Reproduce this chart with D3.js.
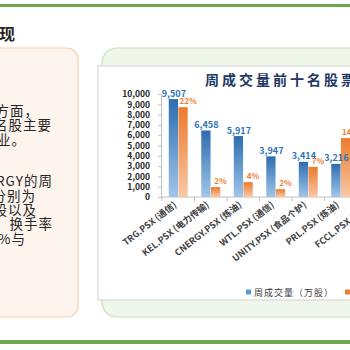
<!DOCTYPE html>
<html>
<head>
<meta charset="utf-8">
<script src="https://cdn.jsdelivr.net/npm/d3@7/dist/d3.min.js"></script>
<style>
  body { margin: 0; background: #ffffff; }
  text { font-family: "Noto Sans CJK SC", "Noto Sans", sans-serif; }
</style>
</head>
<body>
<div id="chart"></div>
<script>
// chart data
var categories = ["TRG.PSX (通信)", "KEL.PSX (电力传输)", "CNERGY.PSX (炼油)", "WTL.PSX (通信)",
                  "UNITY.PSX (食品个护)", "PRL.PSX (炼油)", "FCCL.PSX (水泥)"];
var volumes = [9507, 6458, 5917, 3947, 3414, 3216, null];      // 万股
var turnover = [0.218, 0.024, 0.036, 0.019, 0.073, 0.143, null]; // 换手率
var yTicks = [0, 1000, 2000, 3000, 4000, 5000, 6000, 7000, 8000, 9000, 10000];
var seriesNames = ["周成交量（万股）", "周换手率"];
var chartTitle = "周成交量前十名股票";
var pageTitle = "市场表现";
var noteLines = ["从行业方面，", "前十名股主要", "集中在炼油行业。", "TRG与CNERGY的周",
                 "成交量分别为", "9,507万股以及", "5,917万股，换手率", "分别为22%与"];

var svg = d3.select("#chart").append("svg")
            .attr("width", 350)
            .attr("height", 350);

var defs = svg.append("defs");
function grad(id, top, bottom) {
  var g = defs.append("linearGradient").attr("id", id)
              .attr("x1", 0).attr("y1", 0).attr("x2", 0).attr("y2", 1);
  g.append("stop").attr("offset", "0%").attr("stop-color", top);
  g.append("stop").attr("offset", "100%").attr("stop-color", bottom);
}
grad("blueGrad", "#2d6cb0", "#a0c6ea");
grad("orangeGrad", "#ec7a2c", "#f8c8a6");

// slide frame
svg.append("rect").attr("x", 0).attr("y", 4).attr("width", 350).attr("height", 3).attr("fill", "#6ea84a");
svg.append("rect").attr("x", 0).attr("y", 340).attr("width", 350).attr("height", 4).attr("fill", "#6ea84a");

svg.append("text")
   .attr("x", 15).attr("y", 40)
   .attr("text-anchor", "end")
   .attr("font-size", 16)
   .attr("font-weight", "bold")
   .attr("fill", "#262626")
   .text(pageTitle);

// left note box
svg.append("rect")
   .attr("x", -12).attr("y", 48).attr("width", 90).attr("height", 269)
   .attr("rx", 11)
   .attr("fill", "#fdf4ee").attr("stroke", "#f7cfb4").attr("stroke-width", 1.2);

var noteY = [116, 130, 145, 186, 201, 215, 229, 244];
var noteX = [39, 52, 26, 53, 36, 37, 53, 26];
svg.append("g").selectAll("text")
   .data(noteLines)
   .enter().append("text")
   .attr("x", function(d, i) { return noteX[i]; })
   .attr("y", function(d, i) { return noteY[i]; })
   .attr("text-anchor", "end")
   .attr("font-size", 13.5)
   .attr("letter-spacing", 1)
   .attr("fill", "#262626")
   .text(function(d) { return d; });

// right green panel and chart box
svg.append("rect")
   .attr("x", 102).attr("y", 48).attr("width", 280).attr("height", 269)
   .attr("rx", 15)
   .attr("fill", "#eff6ea").attr("stroke", "#c6e0b4").attr("stroke-width", 1.2);
svg.append("rect")
   .attr("x", 98).attr("y", 66).attr("width", 280).attr("height", 234)
   .attr("fill", "#ffffff").attr("stroke", "#d9d9d9").attr("stroke-width", 1.2);

svg.append("text")
   .attr("x", 205).attr("y", 85)
   .attr("font-size", 14)
   .attr("font-weight", "bold")
   .attr("letter-spacing", 3)
   .attr("fill", "#1f3864")
   .text(chartTitle);

// scales
var x0 = 162, bandW = 32.5, baseY = 197, topY = 94;
var x = d3.scaleBand()
          .domain(categories)
          .range([x0, x0 + bandW * categories.length]);
var x1 = d3.scaleBand()
           .domain(["vol", "turn"])
           .range([0, x.bandwidth()])
           .paddingInner(0.04)
           .paddingOuter(0.7);
var y = d3.scaleLinear().domain([0, 10000]).range([baseY, topY]);
var y2 = d3.scaleLinear().domain([0, 0.25]).range([baseY, topY]);

// y axis
var yAxis = d3.axisLeft(y)
              .tickValues(yTicks)
              .tickFormat(d3.format(","))
              .tickSize(3)
              .tickPadding(8);
var gy = svg.append("g")
   .attr("class", "y_axis")
   .attr("transform", "translate(161,0)")
   .call(yAxis);
gy.select(".domain").attr("stroke", "#bfbfbf");
gy.selectAll(".tick line").attr("stroke", "#bfbfbf");
gy.selectAll(".tick text")
  .attr("font-family", "'Liberation Serif', serif")
  .attr("font-weight", "bold")
  .attr("font-size", 8.5)
  .attr("fill", "#262626");

// x axis
var gx = svg.append("g").attr("class", "x_axis");
gx.append("line")
  .attr("x1", 161).attr("x2", 360)
  .attr("y1", baseY).attr("y2", baseY)
  .attr("stroke", "#bfbfbf");
gx.selectAll(".xtick")
  .data(categories)
  .enter().append("line")
  .attr("class", "xtick")
  .attr("x1", function(d) { return x(d); })
  .attr("x2", function(d) { return x(d); })
  .attr("y1", baseY).attr("y2", baseY + 4)
  .attr("stroke", "#bfbfbf");
gx.selectAll(".xlabel")
  .data(categories)
  .enter().append("text")
  .attr("class", "xlabel")
  .attr("transform", function(d) {
    return "translate(" + (x(d) + x.bandwidth() / 2 - 1) + "," + (baseY + 9) + ") rotate(-38)";
  })
  .attr("text-anchor", "end")
  .attr("font-size", 9)
  .attr("font-weight", 600)
  .attr("fill", "#404040")
  .text(function(d) { return d; });

// bars
var rows = categories.map(function(c, i) {
  return { cat: c, vol: volumes[i], turn: turnover[i] };
}).filter(function(d) { return d.vol !== null; });

svg.append("g").selectAll("rect")
   .data(rows)
   .enter().append("rect")
   .attr("x", function(d) { return x(d.cat) + x1("vol"); })
   .attr("y", function(d) { return y(d.vol); })
   .attr("width", x1.bandwidth())
   .attr("height", function(d) { return baseY - y(d.vol); })
   .attr("fill", "url(#blueGrad)");

svg.append("g").selectAll("rect")
   .data(rows)
   .enter().append("rect")
   .attr("x", function(d) { return x(d.cat) + x1("turn"); })
   .attr("y", function(d) { return y2(d.turn); })
   .attr("width", x1.bandwidth())
   .attr("height", function(d) { return baseY - y2(d.turn); })
   .attr("fill", "url(#orangeGrad)");

// data labels
svg.append("g").selectAll("text")
   .data(rows)
   .enter().append("text")
   .attr("x", function(d) { return x(d.cat) + x1("vol") + x1.bandwidth() / 2 + 0.5; })
   .attr("y", function(d) { return y(d.vol) - 2.5; })
   .attr("text-anchor", "middle")
   .attr("font-family", "'Liberation Serif', serif")
   .attr("font-weight", "bold")
   .attr("font-size", 9)
   .attr("fill", "#2e75b6")
   .text(function(d) { return d3.format(",")(d.vol); });

svg.append("g").selectAll("text")
   .data(rows)
   .enter().append("text")
   .attr("x", function(d) { return x(d.cat) + x1("turn") + x1.bandwidth() / 2 + 5; })
   .attr("y", function(d) { return y2(d.turn) - 3; })
   .attr("text-anchor", "middle")
   .attr("font-family", "'Liberation Serif', serif")
   .attr("font-weight", "bold")
   .attr("font-size", 8)
   .attr("fill", "#ed7d31")
   .text(function(d) { return d3.format(".0%")(d.turn); });

// legend
var legendColors = ["#5b9bd5", "#ed7d31"];
var legendX = [246, 345];
var legend = svg.append("g").selectAll("g")
   .data(seriesNames)
   .enter().append("g")
   .attr("transform", function(d, i) { return "translate(" + legendX[i] + ",292)"; });
legend.append("rect")
   .attr("x", 0).attr("y", -2.5)
   .attr("width", 5).attr("height", 5)
   .attr("fill", function(d, i) { return legendColors[i]; });
legend.append("text")
   .attr("x", 8).attr("y", 3.5)
   .attr("font-size", 9)
   .attr("letter-spacing", 1)
   .attr("fill", "#404040")
   .text(function(d) { return d; });
</script>
</body>
</html>
